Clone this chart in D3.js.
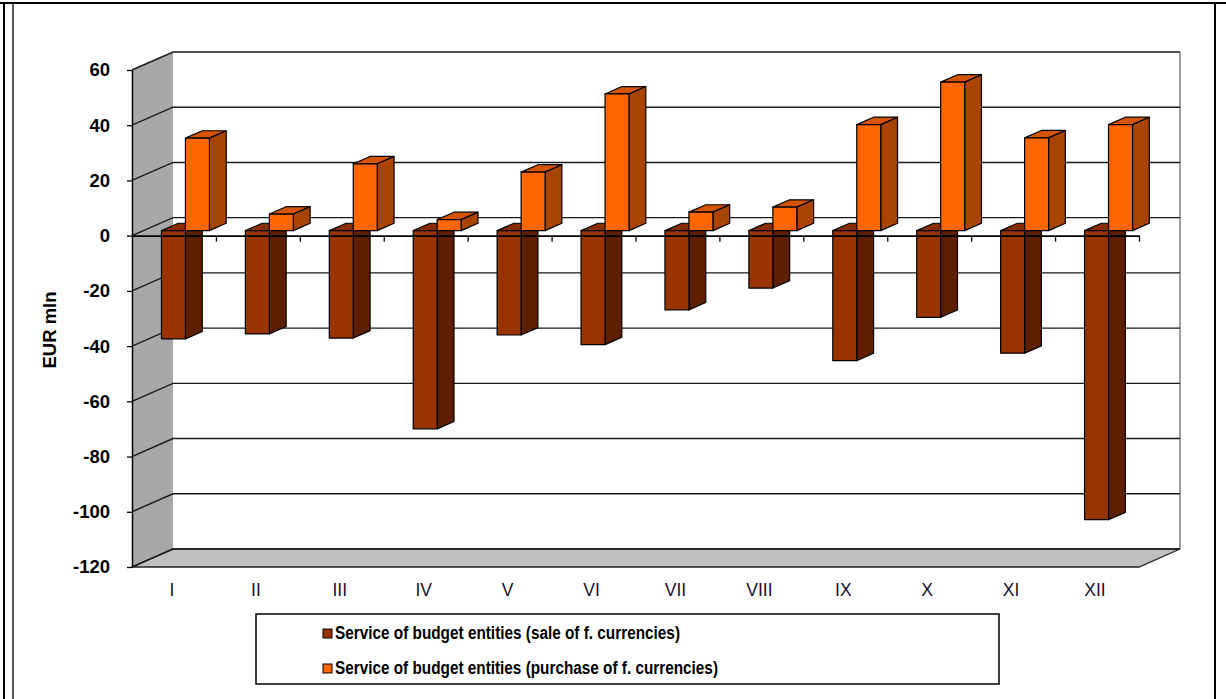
<!DOCTYPE html>
<html>
<head>
<meta charset="utf-8">
<script src="https://cdn.jsdelivr.net/npm/d3@7"></script>
<style>
  html, body { margin: 0; padding: 0; background: #fff; }
  svg { display: block; font-family: "Liberation Sans", Arial, sans-serif; }
</style>
</head>
<body>
<svg id="chart" width="1226" height="699"></svg>
<script>
// Monthly service of budget entities, EUR mln
const months = ["I", "II", "III", "IV", "V", "VI", "VII", "VIII", "IX", "X", "XI", "XII"];
const saleValues = [-39.2, -37.4, -38.9, -71.8, -37.8, -41.3, -28.7, -20.8, -47.1, -31.4, -44.4, -104.7];
const purchaseValues = [33.5, 6.0, 24.2, 4.0, 21.2, 49.5, 6.7, 8.5, 38.4, 53.8, 33.6, 38.4];
const seriesNames = [
  "Service of budget entities (sale of f. currencies)",
  "Service of budget entities (purchase of f. currencies)"
];
const yTickValues = [-120, -100, -80, -60, -40, -20, 0, 20, 40, 60];

const series = [
  { key: "sale", name: seriesNames[0], values: saleValues,
    front: "#993300", top: "#8a2e00", side: "#5e1f00" },
  { key: "purchase", name: seriesNames[1], values: purchaseValues,
    front: "#ff6600", top: "#d45400", side: "#a84300" }
];

const svg = d3.select("#chart");

// 3D frame geometry: depth offset of the back wall
const DX = 41, DY = -18;
const F0 = 0.28, F1 = 0.69; // bar row depth (front/back fraction)
const pt = (px, py, f) => [px + f * DX, py + f * DY];
const poly = pts => "M" + pts.map(p => p.join(",")).join("L") + "Z";

const x = d3.scaleBand().domain(months).range([132, 1139]).paddingInner(0).paddingOuter(0);
const sub = d3.scaleBand().domain(series.map(s => s.key)).range([0, x.bandwidth()])
  .paddingInner(0).paddingOuter(0.75);
const y = d3.scaleLinear().domain([-120, 60]).range([567, 70]);
const xl = x.range()[0], xr = x.range()[1];

// outer frame lines
svg.append("line").attr("x1", 0).attr("x2", 1226).attr("y1", 3).attr("y2", 3)
  .attr("stroke", "#000").attr("stroke-width", 2);
svg.append("line").attr("x1", 4).attr("x2", 4).attr("y1", 2).attr("y2", 699)
  .attr("stroke", "#000").attr("stroke-width", 2);
svg.append("line").attr("x1", 13).attr("x2", 13).attr("y1", 3).attr("y2", 699)
  .attr("stroke", "#000").attr("stroke-width", 1.3);
svg.append("line").attr("x1", 1215).attr("x2", 1215).attr("y1", 2).attr("y2", 699)
  .attr("stroke", "#000").attr("stroke-width", 2);

// back wall
const bwTop = pt(xl, y(60), 1), bwBot = pt(xr, y(-120), 1);
svg.append("rect").attr("x", bwTop[0]).attr("y", bwTop[1])
  .attr("width", bwBot[0] - bwTop[0]).attr("height", bwBot[1] - bwTop[1])
  .attr("fill", "#fff");
svg.append("line").attr("x1", bwBot[0]).attr("x2", bwBot[0]).attr("y1", bwTop[1]).attr("y2", bwBot[1])
  .attr("stroke", "#a0a0a0").attr("stroke-width", 2);

// side wall
svg.append("path")
  .attr("d", poly([pt(xl, y(60), 0), pt(xl, y(60), 1), pt(xl, y(-120), 1), pt(xl, y(-120), 0)]))
  .attr("fill", "#a8a8a8");

// floor
svg.append("path")
  .attr("d", poly([pt(xl, y(-120), 0), pt(xr, y(-120), 0), pt(xr, y(-120), 1), pt(xl, y(-120), 1)]))
  .attr("fill", "#c0c0c0").attr("stroke", "#222").attr("stroke-width", 1.3);

// gridlines along side wall and back wall
svg.append("g").selectAll("path").data(yTickValues).join("path")
  .attr("d", v => "M" + [pt(xl, y(v), 0), pt(xl, y(v), 1), pt(xr, y(v), 1)].map(p => p.join(",")).join("L"))
  .attr("fill", "none").attr("stroke", "#1a1a1a").attr("stroke-width", 1.4);

// bars
const barG = svg.append("g");
months.forEach((m, i) => {
  series.forEach(s => {
    const v = s.values[i];
    const x0 = x(m) + sub(s.key), x1 = x0 + sub.bandwidth();
    const yt = Math.min(y(v), y(0)), yb = Math.max(y(v), y(0));
    const g = barG.append("g").attr("stroke", "#000").attr("stroke-width", 1.2)
      .attr("stroke-linejoin", "round");
    g.append("path").attr("d", poly([pt(x0, yt, F0), pt(x1, yt, F0), pt(x1, yt, F1), pt(x0, yt, F1)]))
      .attr("fill", s.top);
    g.append("path").attr("d", poly([pt(x1, yt, F0), pt(x1, yt, F1), pt(x1, yb, F1), pt(x1, yb, F0)]))
      .attr("fill", s.side);
    g.append("path").attr("d", poly([pt(x0, yt, F0), pt(x1, yt, F0), pt(x1, yb, F0), pt(x0, yb, F0)]))
      .attr("fill", s.front);
  });
});

// category axis at zero, with boundary ticks
const idx = d3.scaleLinear().domain([0, months.length]).range([xl, xr]);
const zeroAxis = svg.append("g").attr("transform", `translate(0,${y(0)})`)
  .call(d3.axisBottom(idx).tickValues(d3.range(1, months.length + 1)).tickSize(6)
    .tickSizeOuter(0).tickFormat(""));
zeroAxis.select(".domain").attr("stroke", "#000").attr("stroke-width", 1.6);
zeroAxis.selectAll(".tick line").attr("stroke", "#000").attr("stroke-width", 1.3);

// value axis
const yAxis = svg.append("g").attr("transform", `translate(${xl},0)`)
  .call(d3.axisLeft(y).tickValues(yTickValues).tickSize(5).tickSizeOuter(0).tickPadding(17)
    .tickFormat(d => String(d)));
yAxis.select(".domain").attr("stroke", "#000").attr("stroke-width", 1.5);
yAxis.selectAll(".tick line").attr("stroke", "#000").attr("stroke-width", 1.3);
yAxis.selectAll("text").attr("font-size", 18.5).attr("font-weight", "bold")
  .attr("font-family", "Liberation Sans, Arial, sans-serif").attr("fill", "#000");

// month labels under the floor
const xAxis = svg.append("g").attr("transform", `translate(-2,${y(-120)})`)
  .call(d3.axisBottom(x).tickSize(0).tickPadding(17));
xAxis.select(".domain").remove();
xAxis.selectAll("text").attr("font-size", 17.5)
  .attr("font-family", "Liberation Sans, Arial, sans-serif").attr("fill", "#1a1030");

// axis title
svg.append("text").attr("transform", "translate(56,330) rotate(-90)")
  .attr("text-anchor", "middle").attr("font-size", 18.5).attr("font-weight", "bold")
  .attr("fill", "#000").text("EUR mln");

// legend
const legend = svg.append("g");
legend.append("rect").attr("x", 256).attr("y", 614).attr("width", 743).attr("height", 70)
  .attr("fill", "#fff").attr("stroke", "#000").attr("stroke-width", 1.5);
const legendLengths = [345, 383];
const items = legend.selectAll("g.item").data(series).join("g").attr("class", "item")
  .attr("transform", (d, i) => `translate(323,${629 + i * 35})`);
items.append("rect").attr("width", 9).attr("height", 9)
  .attr("fill", d => d.front).attr("stroke", "#000").attr("stroke-width", 1);
items.append("text").attr("x", 12).attr("y", 9.5)
  .attr("font-size", 18).attr("font-weight", "bold").attr("fill", "#000")
  .attr("textLength", (d, i) => legendLengths[i]).attr("lengthAdjust", "spacingAndGlyphs")
  .text(d => d.name);
</script>
</body>
</html>
